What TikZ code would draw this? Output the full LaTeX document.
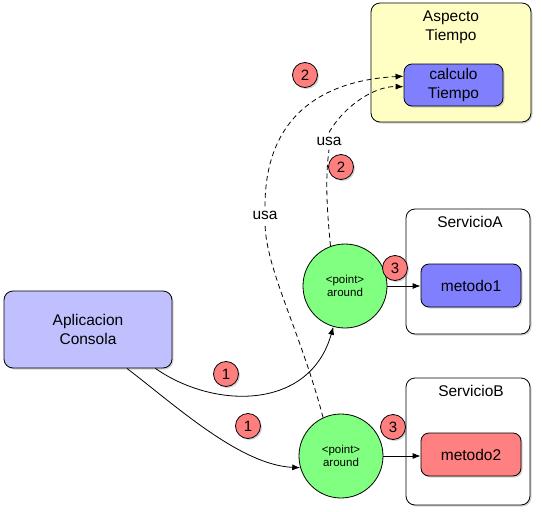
\documentclass[tikz,border=0pt]{standalone}
\usepackage{fontspec}
\setmainfont{Liberation Sans}
\usepackage{xcolor}
\definecolor{aspyellow}{HTML}{FFFFC4}
\definecolor{metblue}{HTML}{8080FF}
\definecolor{appblue}{HTML}{C0C0FF}
\definecolor{ptgreen}{HTML}{80FF80}
\definecolor{metred}{HTML}{FF8080}
\definecolor{numred}{HTML}{FF7F7F}
\usetikzlibrary{arrows.meta,positioning,shadows}

\begin{document}
\begin{tikzpicture}[x=1pt,y=-1pt,>={Latex[length=8pt,width=6pt]},line width=0.8pt]
              \tikzstyle{shade}=[drop shadow={shadow xshift=1.5pt,shadow yshift=-1.5pt,opacity=0.35}]
              \tikzstyle{txt}=[font=\fontsize{15.5}{19}\selectfont,align=center]
              \tikzstyle{caja}=[draw,rounded corners=9pt,shade,fill=white,inner sep=0pt]
              \tikzstyle{metodo}=[txt,draw,rounded corners=8pt,shade,minimum width=100pt,minimum height=43pt]
              \tikzstyle{point}=[circle,draw,fill=ptgreen,minimum size=84pt,inner sep=0pt,align=center,font=\fontsize{11.5}{13}\selectfont]
              \tikzstyle{num}=[circle,draw,fill=numred,minimum size=25pt,inner sep=0pt,shade,font=\fontsize{15}{17}\selectfont]
              \tikzstyle{usa}=[txt,inner sep=4pt]
              \tikzstyle{uso}=[dash pattern=on 5pt off 3.5pt]

              \useasboundingbox (0,0) rectangle (542,512);

              \node[caja,fill=aspyellow,minimum width=160pt,minimum height=119pt] (asp) at (451,62.5) {};
              \node[txt,below=4pt of asp.north]          (aspT)  {Aspecto\\Tiempo};
              \node[metodo,fill=metblue,minimum width=99pt,minimum height=42pt] (calc) at (453.5,85) {calculo\\Tiempo};

              \node[caja,minimum width=124pt,minimum height=125pt] (sA) at (468,271.5) {};
              \node[txt,below=4pt of sA.north,xshift=2pt]  (sAT)   {ServicioA};
              \node[metodo,fill=metblue]  (m1) at (471,285.5) {metodo1};

              \node[caja,minimum width=124pt,minimum height=127pt] (sB) at (468,441.5) {};
              \node[txt,below=4pt of sB.north,xshift=3pt]  (sBT)   {ServicioB};
              \node[metodo,fill=metred]   (m2) at (471,454.5) {metodo2};

              \node[txt,draw,rounded corners=9pt,shade,fill=appblue,minimum width=168pt,minimum height=77pt] (app) at (88,329.5) {Aplicacion\\Consola};

              \node[point] (pA) at (345,286) {<point>\\around};
              \node[point] (pB) at (341,456) {<point>\\around};

              \node[usa] (usaA) at (329,141) {usa};
              \node[usa] (usaB) at (265,215) {usa};

              \node[num] (n2a) at (305,75)  {2};
              \node[num] (n2b) at (341,167) {2};
              \node[num] (n3a) at (395,268) {3};
              \node[num] (n3b) at (393,427) {3};
              \node[num] (n1a) at (226,374) {1};
              \node[num] (n1b) at (248,426) {1};

              \draw[->] (pA.east) -- (m1.west |- pA.east);
              \draw[->] (pB.east) -- (m2.west |- pB.east);

              \draw[->] (app.-30) .. controls (215,410) and (310,410) .. (pA.-106);
              \draw[->] (app.-45) .. controls (175,405) and (240,465) .. (pB.196);

              \draw[uso] (pB.115) .. controls (300,330) and (266,270) .. (usaB.south);
              \draw[uso,->] (usaB.north) .. controls (265,110) and (330,80) .. (calc.170);
              \draw[uso] (pA.110) .. controls (327,210) and (325,180) .. (usaA.south);
              \draw[uso,->] (usaA.north) .. controls (345,105) and (375,86) .. (calc.182);

       \end{tikzpicture}
\end{document}
